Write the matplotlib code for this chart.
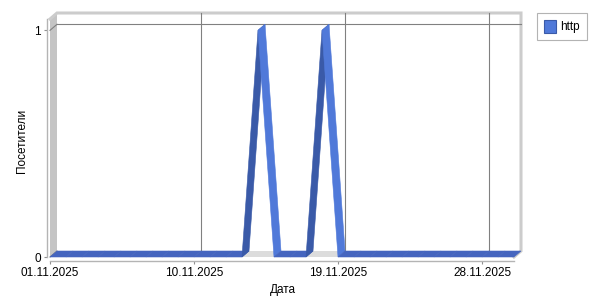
import numpy as np
import matplotlib.pyplot as plt
from matplotlib.patches import Polygon, Patch

plt.rcParams['font.family'] = ['Liberation Sans', 'DejaVu Sans']

# === Data ===
dates = [f"{d:02d}.11.2025" for d in range(1, 31)]
visits = [0, 0, 0, 0, 0, 0, 0, 0, 0, 0,
          0, 0, 0, 1, 0, 0, 0, 1, 0, 0,
          0, 0, 0, 0, 0, 0, 0, 0, 0, 0]
tick_dates = ["01.11.2025", "10.11.2025", "19.11.2025", "28.11.2025"]
y_ticks = [0, 1]
series_name = "http"

# colours
LIGHT = "#5079d9"
DARK = "#3a5aa8"
FLAT = "#4565bf"
WALL = "#c4c4c4"
FLOOR = "#dcdcdc"
GRID = "#808080"
FS = 8.5

W, H = 600, 300
fig = plt.figure(figsize=(6, 3), dpi=100)
ax = fig.add_axes([50 / W, 1 - 257 / H, 464 / W, 238 / H])

x = np.arange(len(dates))
xmax = len(dates) - 1
ytop = 1.05
ax.set_xlim(0, xmax)
ax.set_ylim(0, ytop)

# 3D depth (pixels -> data units)
DX_PX, DY_PX = 7, 6
dx = DX_PX * xmax / 464
dy = DY_PX * ytop / 238

# walls
ax.add_patch(Polygon([(0, 0), (0, ytop), (dx, ytop + dy), (dx, dy)],
                     closed=True, fc=WALL, ec="none", clip_on=False, zorder=1))
ax.add_patch(Polygon([(0, 0), (xmax, 0), (xmax + dx, dy), (dx, dy)],
                     closed=True, fc=FLOOR, ec="none", clip_on=False, zorder=1))
# outline of the back box
ax.plot([0, dx, xmax + dx, xmax + dx, xmax],
        [ytop, ytop + dy, ytop + dy, dy, 0],
        color="#cccccc", lw=2.2, clip_on=False, zorder=1, solid_joinstyle="miter")

# gridlines on back wall
for v in y_ticks[1:]:
    ax.plot([dx, xmax + dx], [v + dy, v + dy], color=GRID, lw=0.8, clip_on=False, zorder=2)
for v in y_ticks:
    ax.plot([0, dx], [v, v + dy], color=GRID, lw=0.8, clip_on=False, zorder=2)
tick_pos = [dates.index(t) for t in tick_dates]
for p in tick_pos[1:]:
    ax.plot([p + dx, p + dx], [dy, ytop + dy], color=GRID, lw=0.8, clip_on=False, zorder=2)

# 3D line ribbon
for i in range(len(visits) - 1):
    x0, y0, x1, y1 = x[i], visits[i], x[i + 1], visits[i + 1]
    if y1 > y0:
        c = DARK
    elif y1 < y0:
        c = LIGHT
    else:
        c = FLAT
    ax.add_patch(Polygon([(x0, y0), (x1, y1), (x1 + dx, y1 + dy), (x0 + dx, y0 + dy)],
                         closed=True, fc=c, ec=c, lw=0.4, clip_on=False, zorder=3))

# axes styling
for s in ["top", "right"]:
    ax.spines[s].set_visible(False)
ax.spines["left"].set_position(("outward", 2.2))
ax.spines["bottom"].set_position(("outward", 2.9))
for s in ["left", "bottom"]:
    ax.spines[s].set_color("#b4b4b4")
    ax.spines[s].set_linewidth(1.0)
ax.set_facecolor("none")

ax.set_xticks(tick_pos)
ax.set_xticklabels(tick_dates)
ax.set_yticks(y_ticks)
ax.tick_params(axis="both", labelsize=FS, color="#909090", length=2.5, width=0.8)
ax.tick_params(axis="x", pad=2)
ax.tick_params(axis="y", pad=2)

ax.set_xlabel("Дата", fontsize=FS)
ax.set_ylabel("Посетители", fontsize=FS)
ax.xaxis.set_label_coords((283 - 50) / 464, (257 - 284) / 238)
ax.yaxis.set_label_coords((28 - 50) / 464, 0.49)

leg = fig.legend(handles=[Patch(fc=LIGHT, ec=DARK, lw=0.8, label=series_name)],
                 loc="upper left", bbox_to_anchor=(537 / W, 1 - 13 / H),
                 fontsize=FS, fancybox=False, edgecolor="#a0a0a0",
                 handlelength=1.0, handleheight=1.25, handletextpad=0.4,
                 borderpad=0.6, borderaxespad=0)
leg.get_frame().set_linewidth(0.8)

fig.savefig("out.png", dpi=100, facecolor="white")
